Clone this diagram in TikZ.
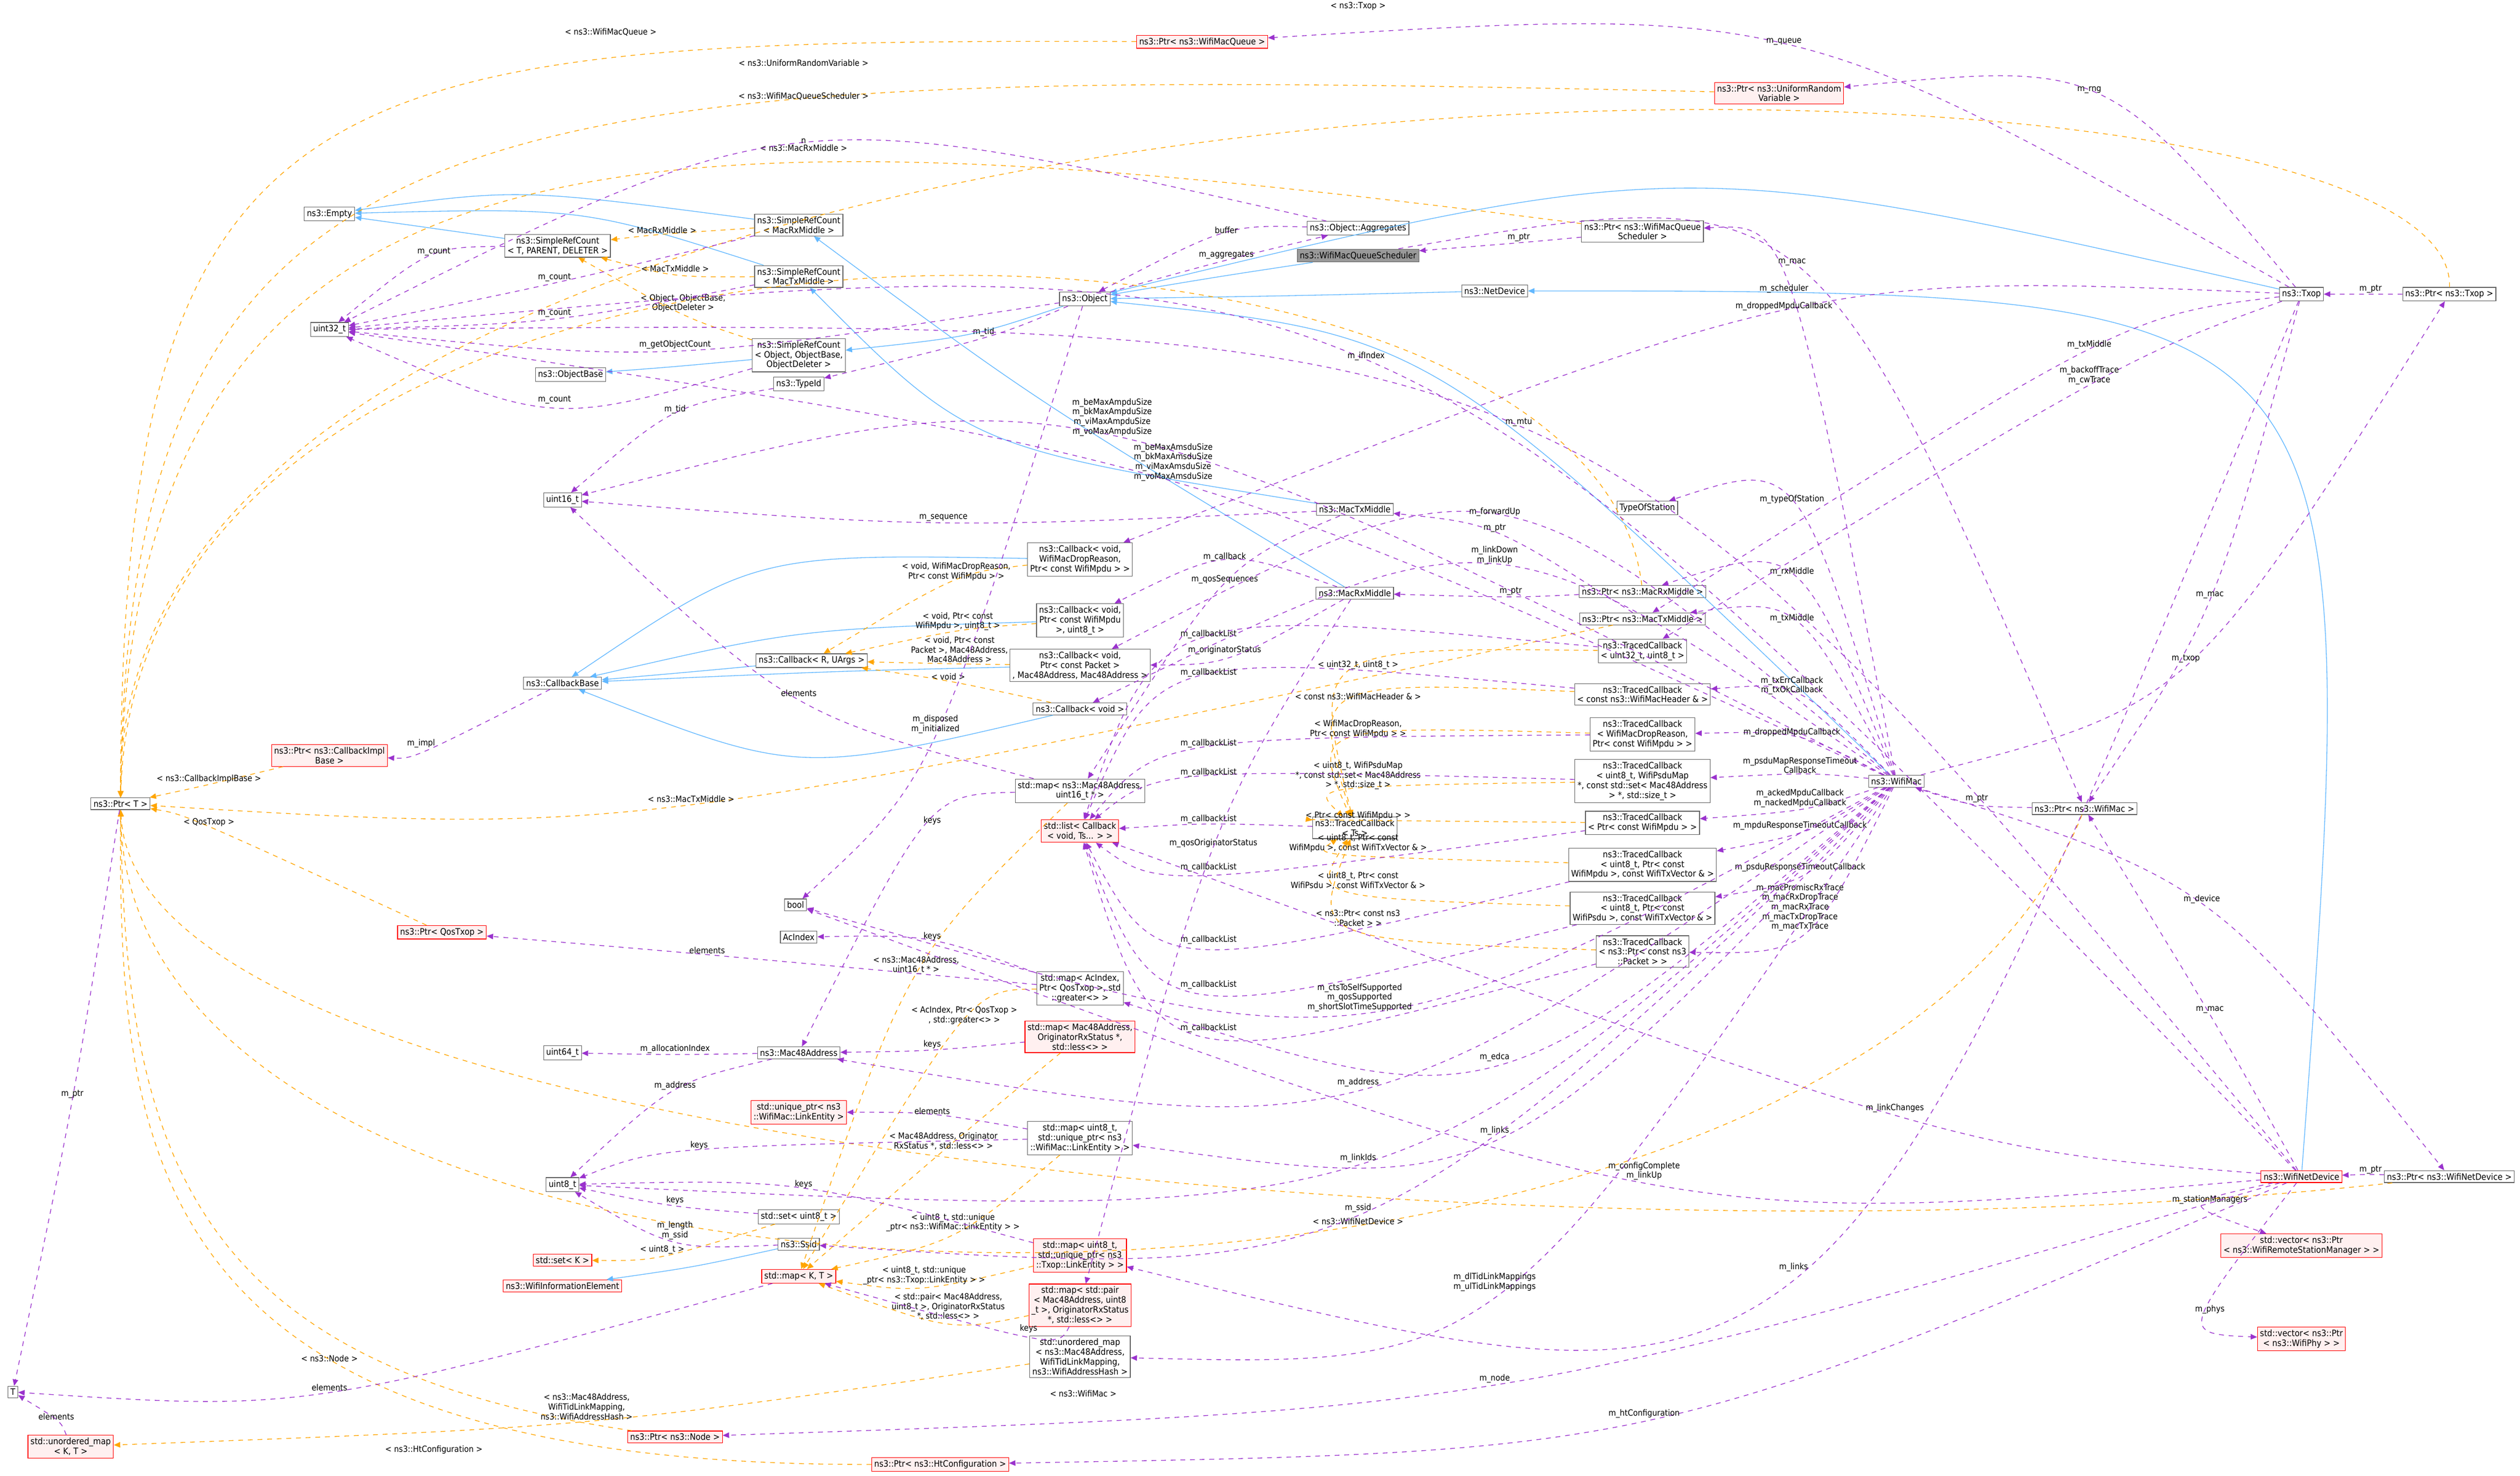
\documentclass[tikz,border=0pt]{standalone}
\usepackage{fontspec}
\setmainfont{DejaVu Sans Condensed}
\usetikzlibrary{arrows.meta,calc}
\definecolor{mem}{HTML}{9A32CD}
\definecolor{tpl}{HTML}{FFA500}
\definecolor{inh}{HTML}{63B8FF}
\definecolor{redfill}{HTML}{FFF0F0}
\tikzset{
 box/.style={draw=black!60,fill=white,inner sep=1.6pt,align=center,font=\fontsize{5.5}{6.1}\selectfont},
 redbox/.style={box,draw=red,fill=redfill},
 curbox/.style={box,fill=black!40},
 lab/.style={inner sep=0.6pt,align=center,font=\fontsize{5.3}{6}\selectfont},
 memline/.style={draw=mem,dashed,line width=0.45pt,-{Triangle[length=4pt,width=3.4pt]}},
 tplline/.style={draw=tpl,dashed,line width=0.45pt,-{Triangle[length=4pt,width=3.4pt]}},
 inhline/.style={draw=inh,line width=0.45pt,-{Triangle[length=4pt,width=3.4pt]}},
}
\newcommand\cnx[5]{%
 \draw[#1] (#2) .. controls ($1.3333*(#4)-0.1667*(#2)-0.1667*(#3)$) .. (#3);
 \node[lab,anchor=south] at (#4) {#5};}
\newcommand\cnxcc[7]{%
 \draw[#1] (#2) .. controls (#4) and (#5) .. (#3);
 \node[lab] at (#6) {#7};}
\newcommand\inhc[3]{%
 \draw[inhline] (#1) .. controls ($1.3333*(#3)-0.1667*(#1)-0.1667*(#2)$) .. (#2);}
\begin{document}
\begin{tikzpicture}[x=1pt,y=-1pt]
\useasboundingbox (0,0) rectangle (1568,918);
% nodes
\node[box] (PtrT) at (75,500) {ns3::Ptr< T >};
\node[box] (T) at (8,866) {T};
\node[redbox] (uoKT) at (44,900) {std::unordered\_map\\< K, T >};
\node[box] (Empty) at (205,133) {ns3::Empty};
\node[box] (spT) at (347,153) {ns3::SimpleRefCount\\< T, PARENT, DELETER >};
\node[box] (spRx) at (497,140) {ns3::SimpleRefCount\\< MacRxMiddle >};
\node[box] (spTx) at (497,172) {ns3::SimpleRefCount\\< MacTxMiddle >};
\node[box] (u32) at (205,205) {uint32\_t};
\node[box] (spObj) at (497,221) {ns3::SimpleRefCount\\< Object, ObjectBase,\\ ObjectDeleter >};
\node[box] (ObjBase) at (355,233) {ns3::ObjectBase};
\node[box] (TypeId) at (497,239) {ns3::TypeId};
\node[box] (Obj) at (675,186) {ns3::Object};
\node[box] (Aggr) at (845,142) {ns3::Object::Aggregates};
\node[curbox] (Sched) at (845,159) {ns3::WifiMacQueueScheduler};
\node[box] (NetDev) at (930,181) {ns3::NetDevice};
\node[box] (PtrSched) at (1022,144) {ns3::Ptr< ns3::WifiMacQueue\\ Scheduler >};
\node[box] (u16) at (350,311) {uint16\_t};
\node[box] (CBB) at (350,425) {ns3::CallbackBase};
\node[box] (CBRU) at (505,411) {ns3::Callback< R, UArgs >};
\node[redbox] (PtrCB) at (205,470) {ns3::Ptr< ns3::CallbackImpl\\ Base >};
\node[box] (CBdrop) at (672,348) {ns3::Callback< void,\\ WifiMacDropReason,\\ Ptr< const WifiMpdu > >};
\node[box] (CBmpdu) at (672,386) {ns3::Callback< void,\\ Ptr< const WifiMpdu\\ >, uint8\_t >};
\node[box] (CBpkt) at (672,414) {ns3::Callback< void,\\ Ptr< const Packet >\\ , Mac48Address, Mac48Address >};
\node[box] (CBvoid) at (672,441) {ns3::Callback< void >};
\node[box] (mapM16) at (672,492) {std::map< ns3::Mac48Address,\\ uint16\_t * >};
\node[redbox] (list) at (672,517) {std::list< Callback\\ < void, Ts... > >};
\node[box] (bool) at (495,563) {bool};
\node[box] (AcIndex) at (497,583) {AcIndex};
\node[box] (mapAc) at (672,615) {std::map< AcIndex,\\ Ptr< QosTxop >, std\\ ::greater<> >};
\node[redbox] (PtrQos) at (275,580) {ns3::Ptr< QosTxop >};
\node[box] (u64) at (350,655) {uint64\_t};
\node[box] (Mac48) at (497,655) {ns3::Mac48Address};
\node[redbox] (mapOrig) at (672,645) {std::map< Mac48Address,\\ OriginatorRxStatus *,\\ std::less<> >};
\node[redbox] (uqWML) at (497,692) {std::unique\_ptr< ns3\\ ::WifiMac::LinkEntity >};
\node[box] (mapWML) at (672,708) {std::map< uint8\_t,\\ std::unique\_ptr< ns3\\ ::WifiMac::LinkEntity > >};
\node[box] (u8) at (350,737) {uint8\_t};
\node[box] (setu8) at (497,757) {std::set< uint8\_t >};
\node[box] (Ssid) at (497,774) {ns3::Ssid};
\node[redbox] (setK) at (350,784) {std::set< K >};
\node[redbox] (WIE) at (350,800) {ns3::WifiInformationElement};
\node[redbox] (mapKT) at (497,794) {std::map< K, T >};
\node[redbox] (mapTL) at (672,781) {std::map< uint8\_t,\\ std::unique\_ptr< ns3\\ ::Txop::LinkEntity > >};
\node[redbox] (mapPair) at (672,812) {std::map< std::pair\\ < Mac48Address, uint8\\ \_t >, OriginatorRxStatus\\ *, std::less<> >};
\node[box] (uoMap) at (672,844) {std::unordered\_map\\ < ns3::Mac48Address,\\ WifiTidLinkMapping,\\ ns3::WifiAddressHash >};
\node[redbox] (PtrNode) at (420,894) {ns3::Ptr< ns3::Node >};
\node[redbox] (PtrHt) at (585,911) {ns3::Ptr< ns3::HtConfiguration >};
\node[redbox] (PtrQueue) at (748,26) {ns3::Ptr< ns3::WifiMacQueue >};
\node[redbox] (PtrRng) at (1107,58) {ns3::Ptr< ns3::UniformRandom\\ Variable >};
\node[box] (TxM) at (843,317) {ns3::MacTxMiddle};
\node[box] (RxM) at (843,369) {ns3::MacRxMiddle};
\node[box] (TOS) at (1025,316) {TypeOfStation};
\node[box] (PtrRx) at (1022,368) {ns3::Ptr< ns3::MacRxMiddle >};
\node[box] (PtrTx) at (1022,385) {ns3::Ptr< ns3::MacTxMiddle >};
\node[box] (TCu32) at (1022,405) {ns3::TracedCallback\\ < uint32\_t, uint8\_t >};
\node[box] (TChdr) at (1022,432) {ns3::TracedCallback\\ < const ns3::WifiMacHeader \& >};
\node[box] (TCdrop) at (1022,457) {ns3::TracedCallback\\ < WifiMacDropReason,\\ Ptr< const WifiMpdu > >};
\node[box] (TCpsdu) at (1022,486) {ns3::TracedCallback\\ < uint8\_t, WifiPsduMap\\ *, const std::set< Mac48Address\\ > *, std::size\_t >};
\node[box] (TCTs) at (843,515) {ns3::TracedCallback\\ < Ts >};
\node[box] (TCpm) at (1022,512) {ns3::TracedCallback\\ < Ptr< const WifiMpdu > >};
\node[box] (TCu8m) at (1022,538) {ns3::TracedCallback\\ < uint8\_t, Ptr< const\\ WifiMpdu >, const WifiTxVector \& >};
\node[box] (TCu8p) at (1022,565) {ns3::TracedCallback\\ < uint8\_t, Ptr< const\\ WifiPsdu >, const WifiTxVector \& >};
\node[box] (TCpkt) at (1022,592) {ns3::TracedCallback\\ < ns3::Ptr< const ns3\\ ::Packet > >};
\node[box] (Mac) at (1180,486) {ns3::WifiMac};
\node[box] (Txop) at (1432,183) {ns3::Txop};
\node[box] (PtrTxop) at (1524,183) {ns3::Ptr< ns3::Txop >};
\node[box] (PtrMac) at (1297,503) {ns3::Ptr< ns3::WifiMac >};
\node[redbox] (Dev) at (1432,732) {ns3::WifiNetDevice};
\node[box] (PtrDev) at (1524,732) {ns3::Ptr< ns3::WifiNetDevice >};
\node[redbox] (vecSM) at (1432,775) {std::vector< ns3::Ptr\\ < ns3::WifiRemoteStationManager > >};
\node[redbox] (vecPhy) at (1432,833) {std::vector< ns3::Ptr\\ < ns3::WifiPhy > >};
% inheritance
\inhc{spT}{Empty}{276,143}
\inhc{spRx}{Empty}{330,122}
\inhc{spTx}{Empty}{360,135}
\inhc{spObj}{ObjBase}{420,228}
\inhc{Obj}{spObj}{600,208}
\inhc{Sched}{Obj}{760,172}
\inhc{NetDev}{Obj}{800,184}
\inhc{Txop}{Obj}{1050,118}
\inhc{Mac}{Obj}{900,240}
\inhc{Dev}{NetDev}{1400,250}
\inhc{RxM}{spRx}{650,250}
\inhc{TxM}{spTx}{620,270}
\inhc{CBdrop}{CBB}{480,355}
\inhc{CBmpdu}{CBB}{500,395}
\inhc{CBpkt}{CBB}{520,418}
\inhc{CBvoid}{CBB}{500,470}
\inhc{CBRU}{CBB}{430,418}
\inhc{Ssid}{WIE}{430,788}
% templates
\cnx{tplline}{spRx}{spT}{412,146}{< MacRxMiddle >}
\cnx{tplline}{spTx}{spT}{420,170}{< MacTxMiddle >}
\cnx{tplline}{spObj}{spT}{425,195}{< Object, ObjectBase,\\ ObjectDeleter >}
\cnx{tplline}{PtrCB}{PtrT}{130,488}{< ns3::CallbackImplBase >}
\cnx{tplline}{PtrQos}{PtrT}{130,515}{< QosTxop >}
\cnxcc{tplline}{PtrQueue}{PtrT}{200,24}{76,40}{380,20}{< ns3::WifiMacQueue >}
\cnxcc{tplline}{PtrRng}{PtrT}{300,40}{80,50}{500,39}{< ns3::UniformRandomVariable >}
\cnxcc{tplline}{PtrSched}{PtrT}{400,64}{82,60}{500,60}{< ns3::WifiMacQueueScheduler >}
\cnxcc{tplline}{PtrRx}{PtrT}{990,96}{86,80}{500,92}{< ns3::MacRxMiddle >}
\cnx{tplline}{PtrTx}{PtrT}{430,500}{< ns3::MacTxMiddle >}
\cnxcc{tplline}{PtrTxop}{PtrT}{1530,-2}{70,-2}{845,4}{< ns3::Txop >}
\cnxcc{tplline}{PtrMac}{PtrT}{1150,870}{80,870}{674,867}{< ns3::WifiMac >}
\cnxcc{tplline}{PtrDev}{PtrT}{1000,790}{85,720}{845,760}{< ns3::WifiNetDevice >}
\cnxcc{tplline}{PtrNode}{PtrT}{120,850}{78,720}{205,845}{< ns3::Node >}
\cnxcc{tplline}{PtrHt}{PtrT}{90,912}{74,720}{270,902}{< ns3::HtConfiguration >}
\cnx{tplline}{CBdrop}{CBRU}{595,362}{< void, WifiMacDropReason,\\ Ptr< const WifiMpdu > >}
\cnx{tplline}{CBmpdu}{CBRU}{596,393}{< void, Ptr< const\\ WifiMpdu >, uint8\_t >}
\cnx{tplline}{CBpkt}{CBRU}{597,413}{< void, Ptr< const\\ Packet >, Mac48Address,\\ Mac48Address >}
\cnx{tplline}{CBvoid}{CBRU}{590,424}{< void >}
\cnx{tplline}{TCu32}{TCTs}{845,417}{< uint32\_t, uint8\_t >}
\cnx{tplline}{TChdr}{TCTs}{845,436}{< const ns3::WifiMacHeader \& >}
\cnx{tplline}{TCdrop}{TCTs}{845,460}{< WifiMacDropReason,\\ Ptr< const WifiMpdu > >}
\cnx{tplline}{TCpsdu}{TCTs}{845,492}{< uint8\_t, WifiPsduMap\\ *, const std::set< Mac48Address\\ > *, std::size\_t >}
\cnx{tplline}{TCpm}{TCTs}{845,511}{< Ptr< const WifiMpdu > >}
\cnx{tplline}{TCu8m}{TCTs}{845,531}{< uint8\_t, Ptr< const\\ WifiMpdu >, const WifiTxVector \& >}
\cnx{tplline}{TCu8p}{TCTs}{845,554}{< uint8\_t, Ptr< const\\ WifiPsdu >, const WifiTxVector \& >}
\cnx{tplline}{TCpkt}{TCTs}{845,577}{< ns3::Ptr< const ns3\\ ::Packet > >}
\cnx{tplline}{mapM16}{mapKT}{570,607}{< ns3::Mac48Address,\\ uint16\_t * >}
\cnx{tplline}{mapAc}{mapKT}{600,638}{< AcIndex, Ptr< QosTxop >\\ , std::greater<> >}
\cnx{tplline}{mapOrig}{mapKT}{587,716}{< Mac48Address, Originator\\ RxStatus *, std::less<> >}
\cnx{tplline}{mapWML}{mapKT}{593,767}{< uint8\_t, std::unique\\ \_ptr< ns3::WifiMac::LinkEntity > >}
\cnx{tplline}{mapTL}{mapKT}{575,800}{< uint8\_t, std::unique\\ \_ptr< ns3::Txop::LinkEntity > >}
\cnx{tplline}{mapPair}{mapKT}{590,822}{< std::pair< Mac48Address,\\ uint8\_t >, OriginatorRxStatus\\ *, std::less<> >}
\cnx{tplline}{setu8}{setK}{412,781}{< uint8\_t >}
\cnx{tplline}{uoMap}{uoKT}{365,884}{< ns3::Mac48Address,\\ WifiTidLinkMapping,\\ ns3::WifiAddressHash >}
% members
\cnx{memline}{spT}{u32}{270,160}{m\_count}
\cnx{memline}{spRx}{u32}{345,176}{m\_count}
\cnx{memline}{spTx}{u32}{345,198}{m\_count}
\cnx{memline}{spObj}{u32}{345,252}{m\_count}
\cnx{memline}{Obj}{u32}{420,218}{m\_getObjectCount}
\cnx{memline}{Obj}{TypeId}{612,210}{m\_tid}
\cnx{memline}{Aggr}{u32}{500,90}{n}
\cnx{memline}{Aggr}{Obj}{763,146}{buffer}
\cnx{memline}{Obj}{Aggr}{763,162}{m\_aggregates}
\cnx{memline}{Obj}{bool}{582,457}{m\_disposed\\ m\_initialized}
\cnx{memline}{TypeId}{u16}{420,258}{m\_tid}
\cnx{memline}{TxM}{u16}{587,325}{m\_sequence}
\cnx{memline}{Mac}{u16}{692,272}{m\_beMaxAmpduSize\\ m\_bkMaxAmpduSize\\ m\_viMaxAmpduSize\\ m\_voMaxAmpduSize}
\cnx{memline}{Mac}{u32}{730,300}{m\_beMaxAmsduSize\\ m\_bkMaxAmsduSize\\ m\_viMaxAmsduSize\\ m\_voMaxAmsduSize}
\cnx{memline}{mapM16}{u16}{497,434}{elements}
\cnx{memline}{CBB}{PtrCB}{262,466}{m\_impl}
\cnx{memline}{PtrT}{T}{45,684}{m\_ptr}
\cnx{memline}{mapKT}{T}{205,866}{elements}
\cnx{memline}{uoKT}{T}{35,884}{elements}
\cnx{memline}{mapM16}{Mac48}{580,514}{keys}
\cnx{memline}{mapAc}{AcIndex}{580,586}{keys}
\cnx{memline}{mapAc}{PtrQos}{440,594}{elements}
\cnx{memline}{mapOrig}{Mac48}{580,653}{keys}
\cnx{memline}{mapWML}{uqWML}{580,694}{elements}
\cnx{memline}{mapWML}{u8}{435,716}{keys}
\cnx{memline}{setu8}{u8}{420,750}{keys}
\cnx{memline}{Ssid}{u8}{420,772}{m\_length\\ m\_ssid}
\cnx{memline}{Mac48}{u8}{420,679}{m\_address}
\cnx{memline}{Mac48}{u64}{420,656}{m\_allocationIndex}
\cnx{memline}{mapTL}{u8}{500,740}{keys}
\cnx{memline}{mapPair}{mapKT}{640,830}{keys}
\cnx{memline}{TCTs}{list}{752,513}{m\_callbackList}
\cnx{memline}{TCu32}{list}{752,398}{m\_callbackList}
\cnx{memline}{TChdr}{list}{752,422}{m\_callbackList}
\cnx{memline}{TCdrop}{list}{752,466}{m\_callbackList}
\cnx{memline}{TCpsdu}{list}{752,484}{m\_callbackList}
\cnx{memline}{TCpm}{list}{752,543}{m\_callbackList}
\cnx{memline}{TCu8m}{list}{752,588}{m\_callbackList}
\cnx{memline}{TCu8p}{list}{752,616}{m\_callbackList}
\cnx{memline}{TCpkt}{list}{752,643}{m\_callbackList}
\cnx{memline}{RxM}{CBmpdu}{762,350}{m\_callback}
\cnx{memline}{TxM}{mapM16}{762,364}{m\_qosSequences}
\cnx{memline}{RxM}{CBpkt}{762,408}{m\_originatorStatus}
\cnx{memline}{RxM}{mapPair}{755,528}{m\_qosOriginatorStatus}
\cnx{memline}{PtrRx}{RxM}{940,371}{m\_ptr}
\cnx{memline}{PtrTx}{TxM}{930,332}{m\_ptr}
\cnx{memline}{Mac}{CBpkt}{930,322}{m\_forwardUp}
\cnx{memline}{Mac}{CBvoid}{930,352}{m\_linkDown\\ m\_linkUp}
\cnx{memline}{Mac}{PtrRx}{1115,359}{m\_rxMiddle}
\cnx{memline}{Mac}{PtrTx}{1115,388}{m\_txMiddle}
\cnx{memline}{Mac}{TOS}{1115,314}{m\_typeOfStation}
\cnx{memline}{Mac}{TChdr}{1115,433}{m\_txErrCallback\\ m\_txOkCallback}
\cnx{memline}{Mac}{TCdrop}{1115,459}{m\_droppedMpduCallback}
\cnx{memline}{Mac}{TCpsdu}{1120,482}{m\_psduMapResponseTimeout\\ Callback}
\cnx{memline}{Mac}{TCpm}{1120,503}{m\_ackedMpduCallback\\ m\_nackedMpduCallback}
\cnx{memline}{Mac}{TCu8m}{1120,517}{m\_mpduResponseTimeoutCallback}
\cnx{memline}{Mac}{TCu8p}{1120,543}{m\_psduResponseTimeoutCallback}
\cnx{memline}{Mac}{TCpkt}{1120,580}{m\_macPromiscRxTrace\\ m\_macRxDropTrace\\ m\_macRxTrace\\ m\_macTxDropTrace\\ m\_macTxTrace}
\cnx{memline}{Mac}{bool}{846,630}{m\_ctsToSelfSupported\\ m\_qosSupported\\ m\_shortSlotTimeSupported}
\cnx{memline}{Mac}{mapAc}{930,661}{m\_edca}
\cnx{memline}{Mac}{Mac48}{845,677}{m\_address}
\cnx{memline}{Mac}{mapWML}{930,707}{m\_links}
\cnx{memline}{Mac}{u8}{845,724}{m\_linkIds}
\cnx{memline}{Mac}{Ssid}{845,755}{m\_ssid}
\cnx{memline}{Mac}{PtrSched}{1110,183}{m\_scheduler}
\cnx{memline}{Mac}{uoMap}{930,804}{m\_dlTidLinkMappings\\ m\_ulTidLinkMappings}
\cnx{memline}{Mac}{PtrTxop}{1360,413}{m\_txop}
\cnx{memline}{Mac}{PtrDev}{1370,563}{m\_device}
\cnx{memline}{PtrMac}{Mac}{1230,500}{m\_ptr}
\cnx{memline}{Txop}{PtrQueue}{1110,29}{m\_queue}
\cnx{memline}{Txop}{PtrRng}{1300,59}{m\_rng}
\cnx{memline}{Txop}{PtrMac}{1375,373}{m\_mac}
\cnx{memline}{Txop}{TCu32}{1300,240}{m\_backoffTrace\\ m\_cwTrace}
\cnx{memline}{Txop}{PtrTx}{1300,218}{m\_txMiddle}
\cnx{memline}{Txop}{CBdrop}{1110,194}{m\_droppedMpduCallback}
\cnx{memline}{Txop}{mapTL}{1116,792}{m\_links}
\cnx{memline}{Dev}{PtrMac}{1375,631}{m\_mac}
\cnx{memline}{Dev}{vecSM}{1375,750}{m\_stationManagers}
\cnx{memline}{Dev}{vecPhy}{1375,818}{m\_phys}
\cnx{memline}{Dev}{PtrNode}{930,861}{m\_node}
\cnx{memline}{Dev}{PtrHt}{1023,883}{m\_htConfiguration}
\cnx{memline}{Dev}{bool}{1023,735}{m\_configComplete\\ m\_linkUp}
\cnx{memline}{Dev}{list}{1179,693}{m\_linkChanges}
\cnx{memline}{Dev}{u32}{850,225}{m\_ifIndex}
\cnx{memline}{Dev}{u32}{945,266}{m\_mtu}
\cnx{memline}{Sched}{PtrMac}{1115,166}{m\_mac}
\cnx{memline}{PtrSched}{Sched}{945,151}{m\_ptr}
\cnx{memline}{PtrTxop}{Txop}{1475,183}{m\_ptr}
\cnx{memline}{PtrDev}{Dev}{1475,731}{m\_ptr}
\end{tikzpicture}
\end{document}
